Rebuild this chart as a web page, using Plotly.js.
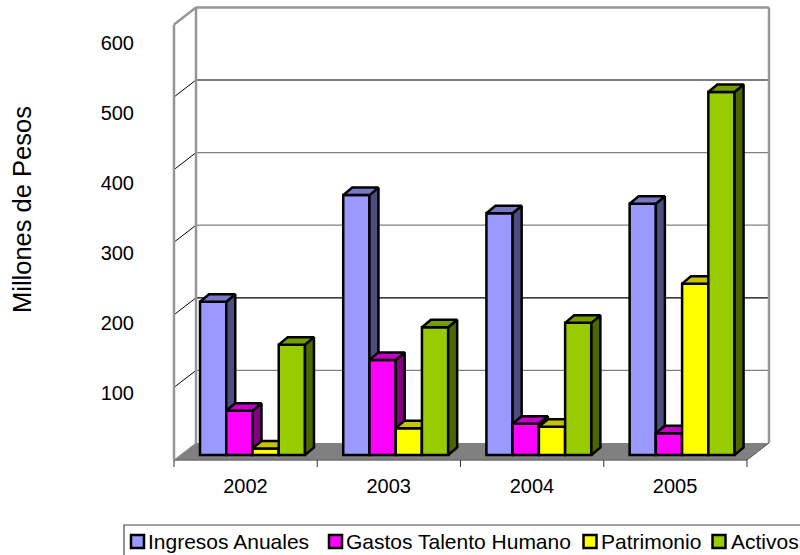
<!DOCTYPE html>
<html>
<head>
<meta charset="utf-8">
<script src="https://cdn.plot.ly/plotly-3.0.1.min.js"></script>
<style>html,body{margin:0;padding:0;background:#fff;overflow:hidden}</style>
</head>
<body>
<div id="chart" style="width:800px;height:555px"></div>
<script>
// Figures in millions of pesos, by year
const years = [2002, 2003, 2004, 2005];
const ingresos = [211, 358, 333, 346];
const gastos = [61, 131, 43, 30];
const patrimonio = [9, 37, 39, 236];
const activos = [152, 176, 182, 500];
const yTicks = [100, 200, 300, 400, 500, 600];

const seriesNames = ['Ingresos Anuales', 'Gastos Talento Humano', 'Patrimonio', 'Activos'];
const seriesValues = [ingresos, gastos, patrimonio, activos];
const frontColors = ['#9999FF', '#FF00FF', '#FFFF00', '#99CC00'];
const sideColors = ['#4D4D80', '#800080', '#808000', '#4D6600'];
const topColors = ['#7878C4', '#C400C4', '#C4C400', '#759C00'];
const gridColors = ['#808080', '#000000', '#808080', '#808080', '#000000'];

// Canvas geometry of the pseudo-3D box
const W = 800, H = 555;
const M = {l: 170, r: 26, t: 0, b: 85};
const plotW = W - M.l - M.r, plotH = H - M.t - M.b;
const pxPerYear = 143.2, firstGroupPx = 252.5;
const pxPerUnit = 0.726, basePx = 455;        // scale of the bars
const labelPxPerUnit = 0.70, labelZeroPx = 462.5; // scale of the value labels
const groupWidth = 0.733, barWidth = groupWidth / 4;

// Pixel offsets converted to axis units
const dx = px => px / pxPerYear;
const dy = px => px / pxPerUnit;
const barDepthX = dx(9), barDepthY = dy(7.5);
const boxFrontLeft = years[0] - dx(firstGroupPx - 174);
const boxFrontRight = boxFrontLeft + dx(573);
const boxDepthX = dx(22), boxDepthY = dy(17);
const floorFront = dy(basePx - 460), floorBack = floorFront + boxDepthY;
const boxTop = floorBack + 600;

const xRange = [years[0] - dx(firstGroupPx - M.l), years[0] + dx(W - M.r - firstGroupPx)];
const barYRange = [-dy(M.t + plotH - basePx), dy(basePx - M.t)];
const labelYRange = [-(M.t + plotH - labelZeroPx) / labelPxPerUnit, (labelZeroPx - M.t) / labelPxPerUnit];

const axisNames = ['y2', 'y3', 'y4', 'y5'];
const traces = [{x: years, y: years.map(() => 0), mode: 'none', hoverinfo: 'skip', showlegend: false, xaxis: 'x', yaxis: 'y'}];

seriesValues.forEach((values, s) => {
  const offset = -groupWidth / 2 + s * barWidth;
  const sideX = [], sideY = [], topX = [], topY = [];
  years.forEach((year, i) => {
    const left = year + offset, right = left + barWidth, v = values[i];
    sideX.push(right, right + barDepthX, right + barDepthX, right, right, null);
    sideY.push(0, barDepthY, v + barDepthY, v, 0, null);
    topX.push(left, left + barDepthX, right + barDepthX, right, left, null);
    topY.push(v, v + barDepthY, v + barDepthY, v, v, null);
  });
  traces.push({
    type: 'bar', name: seriesNames[s], x: years, y: values,
    width: years.map(() => barWidth), offset: years.map(() => offset),
    marker: {color: frontColors[s], line: {color: '#000', width: 2.5}},
    xaxis: 'x', yaxis: axisNames[s], showlegend: false
  });
  [[sideX, sideY, sideColors[s]], [topX, topY, topColors[s]]].forEach(([fx, fy, color]) => {
    traces.push({
      x: fx, y: fy, mode: 'lines', fill: 'toself', fillcolor: color,
      line: {color: '#000', width: 2.5}, hoverinfo: 'skip', showlegend: false,
      xaxis: 'x', yaxis: axisNames[s]
    });
  });
});

// Walls, floor, gridlines and category ticks
const wall = {color: '#969696', width: 2.5};
const seg = (x0, y0, x1, y1, line) => ({type: 'line', xref: 'x', yref: 'y2', x0, y0, x1, y1, line, layer: 'below'});
const backLeft = boxFrontLeft + boxDepthX, backRight = boxFrontRight + boxDepthX;
const shapes = [
  {type: 'path', xref: 'x', yref: 'y2', layer: 'below', fillcolor: '#808080', line: {width: 0},
   path: `M${boxFrontLeft},${floorFront}L${boxFrontRight},${floorFront}L${backRight},${floorBack}L${backLeft},${floorBack}Z`}
];
yTicks.slice(0, 5).forEach((v, i) => {
  const g = floorBack + v;
  shapes.push(seg(backLeft, g, backRight, g, {color: gridColors[i], width: 1.2}));
  shapes.push(seg(boxFrontLeft, g - boxDepthY, backLeft, g, {color: '#000', width: 1}));
});
shapes.push(
  seg(boxFrontLeft, floorFront, boxFrontLeft, boxTop - boxDepthY, wall),
  seg(backLeft, floorBack, backLeft, boxTop, wall),
  seg(backRight, floorBack, backRight, boxTop, wall),
  seg(backLeft, boxTop, backRight, boxTop, wall),
  seg(boxFrontLeft, boxTop - boxDepthY, backLeft, boxTop, wall),
  seg(boxFrontLeft, floorFront, boxFrontRight, floorFront, {color: '#6e6e6e', width: 1.5}),
  seg(boxFrontLeft, floorFront, backLeft, floorBack, {color: '#969696', width: 1}),
  seg(boxFrontRight, floorFront, backRight, floorBack, {color: '#555', width: 1})
);
for (let i = 0; i <= years.length; i++) {
  const t = boxFrontLeft + i * (boxFrontRight - boxFrontLeft) / years.length;
  shapes.push(seg(t, floorFront, t, floorFront - dy(7), {color: '#333', width: 1}));
}

// Legend strip along the bottom edge
const px = v => (v - M.l) / plotW;
const py = v => 1 - (v - M.t) / plotH;
const legendSwatch = [131, 329, 583.5, 712.5];
const legendText = [147, 345, 600, 730];
const FONT = '"Liberation Sans", Arial, sans-serif';
shapes.push({type: 'rect', xref: 'paper', yref: 'paper', x0: px(124), x1: px(840), y0: py(525), y1: py(580),
  line: {color: '#444', width: 1.2}, fillcolor: '#fff'});
const annotations = [{
  text: 'Millones de Pesos', xref: 'paper', yref: 'paper', x: px(22), y: py(210),
  xanchor: 'center', yanchor: 'middle',
  textangle: -90, showarrow: false, font: {family: FONT, size: 25.5, color: '#000'}
}];
seriesNames.forEach((name, s) => {
  shapes.push({type: 'rect', xref: 'paper', yref: 'paper',
    x0: px(legendSwatch[s]), x1: px(legendSwatch[s] + 13), y0: py(535), y1: py(548),
    line: {color: '#000', width: 2.5}, fillcolor: frontColors[s]});
  annotations.push({text: name, xref: 'paper', yref: 'paper', x: px(legendText[s]), y: py(541.5),
    xanchor: 'left', yanchor: 'middle', showarrow: false, xshift: -1, font: {family: FONT, size: 21, color: '#000'}});
});

const hidden = {overlaying: 'y', visible: false, range: barYRange, fixedrange: true};
const layout = {
  width: W, height: H, margin: M, paper_bgcolor: '#fff', plot_bgcolor: 'rgba(0,0,0,0)',
  showlegend: false, shapes, annotations,
  font: {family: FONT, size: 20, color: '#000'},
  xaxis: {range: xRange, tickmode: 'array', tickvals: years.map(y => y - dx(7)), ticktext: years.map(String),
    showgrid: false, zeroline: false, showline: false, ticks: '', fixedrange: true, ticklabelstandoff: 2},
  yaxis: {range: labelYRange, tickmode: 'array', tickvals: yTicks, ticktext: yTicks.map(String),
    showgrid: false, zeroline: false, showline: false, ticks: '', fixedrange: true, ticklabelstandoff: 35},
  yaxis2: hidden, yaxis3: hidden, yaxis4: hidden, yaxis5: hidden
};
Plotly.newPlot('chart', traces, layout, {displayModeBar: false, staticPlot: true});
</script>
</body>
</html>
